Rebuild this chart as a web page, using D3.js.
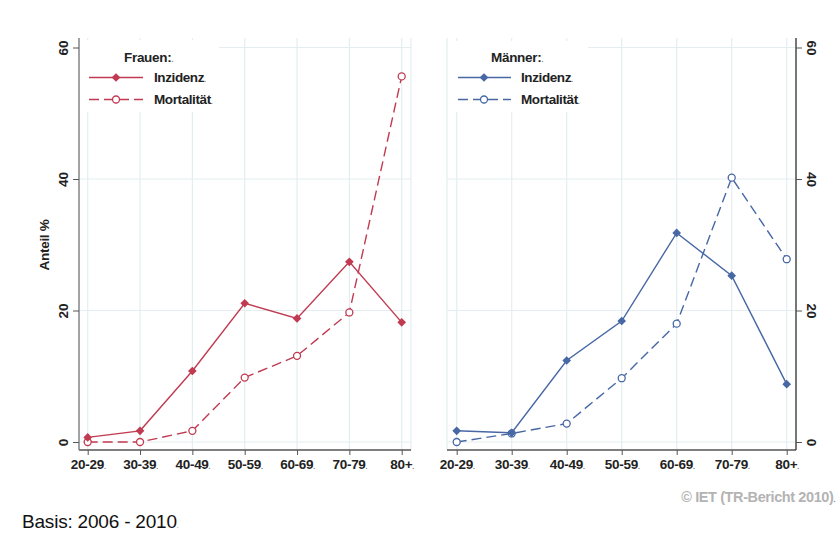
<!DOCTYPE html>
<html>
<head>
<meta charset="utf-8">
<script src="https://cdn.jsdelivr.net/npm/d3@7"></script>
<style>
html,body{margin:0;padding:0;background:#fff;}
svg{display:block;font-family:"Liberation Sans",Arial,sans-serif;}
</style>
</head>
<body>
<svg id="chart" width="837" height="533"></svg>
<script>
const categories = ["20-29","30-39","40-49","50-59","60-69","70-79","80+"];
const yTicks = [0,20,40,60];
const frauenInzidenz   = [0.7, 1.7, 10.8, 21.1, 18.8, 27.4, 18.2];
const frauenMortalitaet = [0.0, 0.0, 1.7, 9.8, 13.1, 19.7, 55.6];
const maennerInzidenz  = [1.7, 1.4, 12.4, 18.4, 31.8, 25.3, 8.8];
const maennerMortalitaet = [0.0, 1.3, 2.8, 9.7, 18.0, 40.2, 27.8];
const legendTitles = ["Frauen:", "Männer:"];
const seriesNames = ["Inzidenz", "Mortalität"];
const yTitle = "Anteil %";
const footLeft = "Basis: 2006 - 2010";
const footRight = "© IET (TR-Bericht 2010)";

const RED = "#c03a51", BLUE = "#4767a5";
const GRID = "#e4eef0";
const svg = d3.select("#chart");

const y = d3.scaleLinear().domain([0,60]).range([442,47.5]);
const plotTop = 38, plotBottom = 450;

function dot(sel){ sel.append("tspan").attr("font-size","7px").attr("fill","#777").text("."); }

function panel(cfg){
  const g = svg.append("g");
  const x = d3.scalePoint().domain(categories).range(cfg.xr);
  g.append("line").attr("x1",cfg.fx[0]).attr("x2",cfg.fx[0]).attr("y1",plotTop).attr("y2",plotBottom).attr("stroke",GRID).attr("stroke-width",1.2);
  g.append("line").attr("x1",cfg.fx[1]).attr("x2",cfg.fx[1]).attr("y1",plotTop).attr("y2",plotBottom).attr("stroke",GRID).attr("stroke-width",1.2);
  g.selectAll(".vg").data(categories).join("line")
    .attr("x1",d=>x(d)).attr("x2",d=>x(d)).attr("y1",plotTop).attr("y2",plotBottom)
    .attr("stroke",GRID).attr("stroke-width",1.2);
  g.selectAll(".hg").data(yTicks).join("line")
    .attr("x1",cfg.fx[0]).attr("x2",cfg.fx[1]).attr("y1",d=>y(d)).attr("y2",d=>y(d))
    .attr("stroke",GRID).attr("stroke-width",1.2);

  g.append("rect").attr("x",cfg.lb[0]).attr("y",cfg.lb[1]).attr("width",cfg.lb[2]).attr("height",cfg.lb[3]).attr("fill","#fff");

  const xa = d3.axisBottom(x).tickSize(5).tickPadding(4).tickFormat(d=>d);
  const gx = g.append("g").attr("transform",`translate(0,${plotBottom})`).call(xa);
  gx.select(".domain").attr("d",`M${cfg.fx[0]},0H${cfg.fx[1]}`).attr("stroke","#555").attr("stroke-width",1.3);
  gx.selectAll(".tick line").attr("stroke","#555");
  gx.selectAll(".tick text").attr("font-size","13.5px").attr("font-weight","bold").attr("fill","#222")
    .attr("font-family","'Liberation Sans',Arial,sans-serif").attr("letter-spacing","-0.3px")
    .each(function(){ dot(d3.select(this)); });

  const ya = (cfg.right ? d3.axisRight(y) : d3.axisLeft(y)).tickValues(yTicks).tickSize(6).tickPadding(4);
  const gy = g.append("g").attr("transform",`translate(${cfg.ax},0)`).call(ya);
  gy.select(".domain").attr("d",`M0,${plotTop}V${plotBottom}`).attr("stroke", cfg.right ? "#333" : "#777").attr("stroke-width",1.3);
  gy.selectAll(".tick line").attr("stroke","#555");
  gy.selectAll(".tick text")
    .attr("font-size","13.5px").attr("font-weight","bold").attr("fill","#222")
    .attr("font-family","'Liberation Sans',Arial,sans-serif")
    .attr("x",null).attr("dy",null)
    .attr("text-anchor","middle")
    .attr("transform", cfg.right ? "translate(15,0) rotate(90)" : "translate(-16,0) rotate(-90)")
    .attr("dominant-baseline","central");

  const line = d3.line().x((d,i)=>x(categories[i])).y(d=>y(d));
  g.append("path").datum(cfg.mort).attr("d",line).attr("fill","none").attr("stroke",cfg.color)
    .attr("stroke-width",1.4).attr("stroke-dasharray","10,5");
  g.append("path").datum(cfg.inz).attr("d",line).attr("fill","none").attr("stroke",cfg.color).attr("stroke-width",1.4);
  g.selectAll(".mc").data(cfg.mort).join("circle")
    .attr("cx",(d,i)=>x(categories[i])).attr("cy",d=>y(d)).attr("r",3.5)
    .attr("fill","#fff").attr("stroke",cfg.color).attr("stroke-width",1.3);
  const diamond = d3.symbol().type(d3.symbolDiamond2).size(48);
  g.selectAll(".md").data(cfg.inz).join("path")
    .attr("d",diamond).attr("transform",(d,i)=>`translate(${x(categories[i])},${y(d)})`).attr("fill",cfg.color);

  const L = cfg.leg;
  const tt = g.append("text").attr("x",L.tx).attr("y",62).attr("font-size","13.5px").attr("font-weight","bold").attr("fill","#222").attr("letter-spacing","-0.3px").text(cfg.title);
  dot(tt);
  const rows = [{y:77.5, dash:null, name:seriesNames[0], mark:"d"},{y:99.5, dash:"10,5", name:seriesNames[1], mark:"c"}];
  rows.forEach(r=>{
    g.append("line").attr("x1",L.x1).attr("x2",L.x2).attr("y1",r.y).attr("y2",r.y).attr("stroke",cfg.color).attr("stroke-width",1.4).attr("stroke-dasharray",r.dash);
    if(r.mark==="d") g.append("path").attr("d",diamond).attr("transform",`translate(${L.mx},${r.y})`).attr("fill",cfg.color);
    else g.append("circle").attr("cx",L.mx).attr("cy",r.y).attr("r",3.5).attr("fill","#fff").attr("stroke",cfg.color).attr("stroke-width",1.3);
    const t = g.append("text").attr("x",L.lx).attr("y",r.y+4.8).attr("font-size","13.5px").attr("font-weight","bold").attr("fill","#222").attr("letter-spacing","-0.4px").text(r.name);
    dot(t);
  });
}

panel({xr:[87.7,401.7], fx:[79,411], ax:79, right:false, color:RED, inz:frauenInzidenz, mort:frauenMortalitaet,
  title:legendTitles[0], lb:[80,40,139,72], leg:{tx:124,x1:89,x2:143,mx:116,lx:154}});
panel({xr:[456.7,786.7], fx:[447,796], ax:796, right:true, color:BLUE, inz:maennerInzidenz, mort:maennerMortalitaet,
  title:legendTitles[1], lb:[448,41,140,71], leg:{tx:491,x1:458,x2:511,mx:484,lx:521}});

svg.append("text").attr("transform","translate(49,245) rotate(-90)").attr("text-anchor","middle")
  .attr("font-size","13.5px").attr("font-weight","bold").attr("fill","#222").attr("letter-spacing","-0.3px").text(yTitle);

const fl = svg.append("text").attr("x",22).attr("y",528).attr("font-size","19px").attr("fill","#111").attr("letter-spacing","-0.2px").text(footLeft);
dot(fl);
const fr = svg.append("text").attr("x",835).attr("y",502).attr("text-anchor","end").attr("font-size","14.5px").attr("font-weight","bold").attr("fill","#b3b3b3").attr("letter-spacing","-0.4px").text(footRight);
dot(fr);
</script>
</body>
</html>
